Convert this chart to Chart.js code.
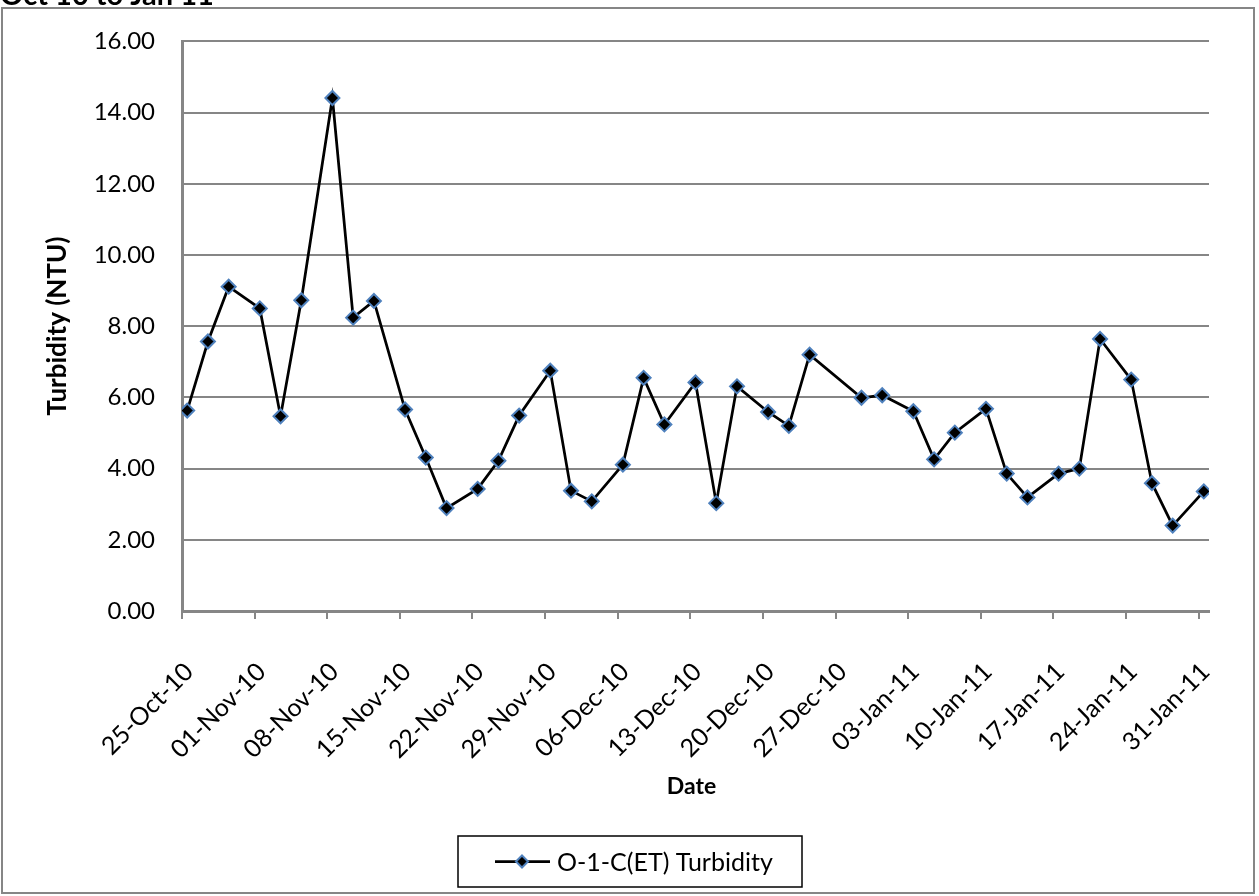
<!DOCTYPE html>
<html>
<head>
<meta charset="utf-8">
<script src="https://cdn.jsdelivr.net/npm/chart.js@4.4.1/dist/chart.umd.min.js"></script>
<style>
  html, body { margin: 0; padding: 0; background: #ffffff; }
  canvas { display: block; }
</style>
</head>
<body>
<canvas id="turbidityChart" width="1259" height="896"></canvas>
<script>
// Sampling dates (ISO) and measured turbidity in NTU
const sampleDates = [
  '2010-10-25', '2010-10-27', '2010-10-29', '2010-11-01', '2010-11-03', '2010-11-05',
  '2010-11-08', '2010-11-10', '2010-11-12', '2010-11-15', '2010-11-17', '2010-11-19',
  '2010-11-22', '2010-11-24', '2010-11-26', '2010-11-29', '2010-12-01', '2010-12-03',
  '2010-12-06', '2010-12-08', '2010-12-10', '2010-12-13', '2010-12-15', '2010-12-17',
  '2010-12-20', '2010-12-22', '2010-12-24', '2010-12-29', '2010-12-31', '2011-01-03',
  '2011-01-05', '2011-01-07', '2011-01-10', '2011-01-12', '2011-01-14', '2011-01-17',
  '2011-01-19', '2011-01-21', '2011-01-24', '2011-01-26', '2011-01-28', '2011-01-31'
];
const turbidity = [
  5.63, 7.57, 9.11, 8.50, 5.47, 8.73,
  14.41, 8.24, 8.71, 5.66, 4.31, 2.89,
  3.43, 4.22, 5.49, 6.75, 3.38, 3.08,
  4.11, 6.55, 5.24, 6.42, 3.03, 6.31,
  5.59, 5.20, 7.20, 5.99, 6.06, 5.61,
  4.26, 5.01, 5.68, 3.86, 3.19, 3.86,
  4.00, 7.64, 6.50, 3.59, 2.40, 3.36
];
const tickLabels = [
  '25-Oct-10', '01-Nov-10', '08-Nov-10', '15-Nov-10', '22-Nov-10', '29-Nov-10',
  '06-Dec-10', '13-Dec-10', '20-Dec-10', '27-Dec-10', '03-Jan-11', '10-Jan-11',
  '17-Jan-11', '24-Jan-11', '31-Jan-11'
];
const yTickValues = [0, 2, 4, 6, 8, 10, 12, 14, 16];
const axisStart = '25-Oct-10';
const axisEnd = '01-Feb-11';

const seriesName = 'O-1-C(ET) Turbidity';
const chartTitle = 'Oct 10 to Jan 11';
const xTitle = 'Date';
const yTitle = 'Turbidity (NTU)';

// Day arithmetic: every date becomes a day offset from the axis start
const MONTHS = ['Jan','Feb','Mar','Apr','May','Jun','Jul','Aug','Sep','Oct','Nov','Dec'];
const MS_PER_DAY = 86400000;
function labelToUTC(label) {
  const [d, mon, yy] = label.split('-');
  return Date.UTC(2000 + Number(yy), MONTHS.indexOf(mon), Number(d));
}
function isoToUTC(iso) {
  const [y, m, d] = iso.split('-').map(Number);
  return Date.UTC(y, m - 1, d);
}
const originUTC = labelToUTC(axisStart);
const dayOf = utc => Math.round((utc - originUTC) / MS_PER_DAY);
const tickDays = tickLabels.map(l => dayOf(labelToUTC(l)));
const lastDay = dayOf(labelToUTC(axisEnd));
// each sample sits in the middle of its day slot
const points = sampleDates.map((iso, i) => ({ x: dayOf(isoToUTC(iso)) + 0.5, y: turbidity[i] }));

const FONT = 'Lato, "Open Sans", sans-serif';
const GRID = '#868686';
const MARKER_EDGE = '#4F81BD';

// Frame, titles and the boxed legend
const decorations = {
  id: 'decorations',
  afterDraw(chart) {
    const ctx = chart.ctx;
    const area = chart.chartArea;
    const ds = chart.data.datasets[0];
    ctx.save();

    // outer frame
    ctx.strokeStyle = GRID;
    ctx.lineWidth = 2;
    ctx.strokeRect(2, 8, 1252, 885);

    // title, cut by the top edge
    ctx.fillStyle = '#000';
    ctx.font = 'bold 29px ' + FONT;
    ctx.textAlign = 'left';
    ctx.textBaseline = 'alphabetic';
    ctx.fillText(chartTitle, 0, 5);

    // axis titles
    ctx.font = 'bold 23px ' + FONT;
    ctx.textAlign = 'center';
    ctx.textBaseline = 'middle';
    ctx.fillText(xTitle, (area.left + area.right) / 2 - 4, 787);
    ctx.save();
    ctx.translate(58, (area.top + area.bottom) / 2);
    ctx.rotate(-Math.PI / 2);
    ctx.font = 'bold 26px ' + FONT;
    ctx.fillText(yTitle, 0, 0);
    ctx.restore();

    // legend
    const box = { x: 458, y: 836, w: 344, h: 51 };
    ctx.strokeStyle = '#000';
    ctx.lineWidth = 1.5;
    ctx.strokeRect(box.x, box.y, box.w, box.h);
    const cy = box.y + box.h / 2;
    ctx.strokeStyle = ds.borderColor;
    ctx.lineWidth = ds.borderWidth;
    ctx.beginPath();
    ctx.moveTo(495, cy);
    ctx.lineTo(550, cy);
    ctx.stroke();
    const r = 6, mx = 522;
    ctx.beginPath();
    ctx.moveTo(mx, cy - r);
    ctx.lineTo(mx + r, cy);
    ctx.lineTo(mx, cy + r);
    ctx.lineTo(mx - r, cy);
    ctx.closePath();
    ctx.fillStyle = ds.pointBackgroundColor;
    ctx.fill();
    ctx.strokeStyle = ds.pointBorderColor;
    ctx.lineWidth = ds.pointBorderWidth;
    ctx.stroke();
    ctx.fillStyle = '#000';
    ctx.font = '25px ' + FONT;
    ctx.textAlign = 'left';
    ctx.fillText(ds.label, 557, cy + 1);

    ctx.restore();
  }
};

new Chart(document.getElementById('turbidityChart'), {
  type: 'line',
  data: {
    datasets: [{
      label: seriesName,
      data: points,
      borderColor: '#000000',
      borderWidth: 2.75,
      tension: 0,
      pointStyle: 'rectRot',
      pointRadius: 7,
      pointBorderWidth: 2,
      pointBackgroundColor: '#000000',
      pointBorderColor: MARKER_EDGE
    }]
  },
  options: {
    responsive: false,
    animation: false,
    devicePixelRatio: 1,
    layout: { padding: { top: 38, right: 50, left: 0, bottom: 0 } },
    plugins: { legend: { display: false }, tooltip: { enabled: false } },
    scales: {
      x: {
        type: 'linear',
        min: 0,
        max: lastDay,
        afterBuildTicks: scale => { scale.ticks = tickDays.map(v => ({ value: v })); },
        afterFit: scale => { scale.height = 285; },
        ticks: {
          autoSkip: false,
          minRotation: 45,
          maxRotation: 45,
          padding: 38,
          labelOffset: 7,
          color: '#000',
          font: { family: FONT, size: 25 },
          callback: (value, index) => tickLabels[index]
        },
        grid: { drawOnChartArea: false, drawTicks: true, tickLength: 8, color: GRID, lineWidth: 2 },
        border: { color: GRID, width: 3 }
      },
      y: {
        min: 0,
        max: 16,
        afterBuildTicks: scale => { scale.ticks = yTickValues.map(v => ({ value: v })); },
        afterFit: scale => { scale.width = 182; },
        ticks: {
          padding: 27,
          color: '#000',
          font: { family: FONT, size: 24 },
          callback: value => Number(value).toFixed(2)
        },
        grid: { color: GRID, lineWidth: 2, drawTicks: false },
        border: { color: GRID, width: 3 }
      }
    }
  },
  plugins: [decorations]
});
</script>
</body>
</html>
